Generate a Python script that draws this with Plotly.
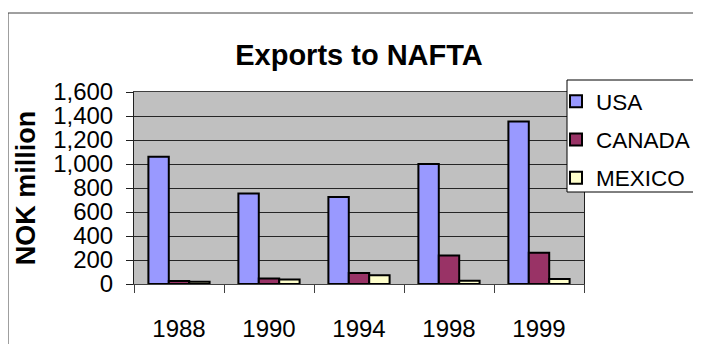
import plotly.graph_objects as go

years = ["1988", "1990", "1994", "1998", "1999"]
usa = [1060, 755, 725, 1000, 1355]
canada = [25, 45, 92, 238, 260]
mexico = [18, 38, 72, 28, 42]
series_names = ["USA", "CANADA", "MEXICO"]
series_colors = ["#9999FF", "#993366", "#FFFFCC"]
y_ticks = [0, 200, 400, 600, 800, 1000, 1200, 1400, 1600]

FONT = "Arial, 'Liberation Sans', sans-serif"

# page body has an 8px margin, so the figure is offset by 8px
W, H = 693, 336
L, R, T, B = 126, 117, 84, 60
pw, ph = W - L - R, H - T - B

def px_x(x):
    return (x - L) / pw

def px_y(y):
    return (H - B - y) / ph

fig = go.Figure()
for i, (name, vals) in enumerate(zip(series_names, [usa, canada, mexico])):
    fig.add_trace(go.Bar(
        x=years, y=vals, name=name, legendgroup=name,
        marker=dict(color=series_colors[i], line=dict(color="black", width=2)),
    ))

fig.update_layout(
    width=W, height=H,
    margin=dict(l=L, r=R, t=T, b=B, autoexpand=False),
    paper_bgcolor="white",
    plot_bgcolor="#C0C0C0",
    barmode="group",
    bargap=0.32,
    bargroupgap=0,
    font=dict(family=FONT, color="black"),
    title=dict(text="<b>Exports to NAFTA</b>", x=0.5, xref="paper", xanchor="center",
               y=1 - 47 / H, yref="container", yanchor="middle",
               font=dict(size=29, family=FONT, color="black")),
    legend=dict(x=px_x(548), y=px_y(72), xanchor="left", yanchor="top",
                bgcolor="rgba(0,0,0,0)", borderwidth=0,
                font=dict(size=22.5, family=FONT, color="black"),
                tracegroupgap=6, itemwidth=30),
    showlegend=True,
)

fig.update_xaxes(
    type="category", showgrid=False, showline=True, linecolor="#404040", linewidth=1,
    ticks="outside", tickson="boundaries", ticklen=8, tickcolor="#404040",
    tickfont=dict(size=24, family=FONT, color="black"),
    ticklabelstandoff=23,
    mirror=True,
)
fig.update_yaxes(
    range=[0, 1600], tickvals=y_ticks, tickformat=",d",
    showgrid=True, gridcolor="#262626", gridwidth=1,
    showline=True, linecolor="#202020", linewidth=1, mirror=True,
    ticks="outside", ticklen=7, tickcolor="#202020",
    tickfont=dict(size=24, family=FONT, color="black"),
    ticklabelstandoff=8,
    zeroline=False,
    title=dict(text="<b>NOK million</b>", standoff=9,
               font=dict(size=27, family=FONT, color="black")),
)

# outer chart frame
fig.add_shape(type="rect", xref="paper", yref="paper",
              x0=px_x(0), x1=px_x(692), y0=px_y(360), y1=px_y(5),
              line=dict(color="#404040", width=1), fillcolor="rgba(0,0,0,0)", layer="below")
# legend box
fig.add_shape(type="rect", xref="paper", yref="paper",
              x0=px_x(559), x1=px_x(692), y0=px_y(184), y1=px_y(72),
              line=dict(color="black", width=1), fillcolor="white", layer="above")

fig.write_html("out.html")
